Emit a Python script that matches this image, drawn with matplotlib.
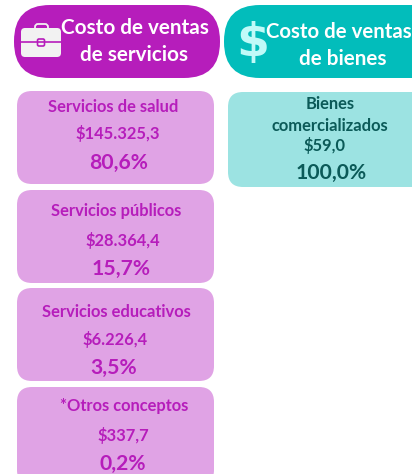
import matplotlib
matplotlib.use("Agg")
import matplotlib.pyplot as plt
from matplotlib.patches import FancyBboxPatch

plt.rcParams['font.family'] = ['Lato', 'DejaVu Sans']

servicios = ["Servicios de salud", "Servicios públicos", "Servicios educativos", "*Otros conceptos"]
servicios_valor = ["$145.325,3", "$28.364,4", "$6.226,4", "$337,7"]
servicios_pct = ["80,6%", "15,7%", "3,5%", "0,2%"]
bienes = "Bienes\ncomercializados"
bienes_valor = "$59,0"
bienes_pct = "100,0%"

MORADO = "#B61DBB"
MORADO_CLARO = "#E0A3E5"
TEAL = "#02BDBB"
TEAL_CLARO = "#9CE3E2"
TEAL_OSCURO = "#0B5A58"


def caja(ax, x0, y0, x1, y1, r, color):
    p = FancyBboxPatch((x0 + r, y0 + r), x1 - x0 - 2 * r, y1 - y0 - 2 * r,
                       boxstyle=f"round,pad={r},rounding_size={r}",
                       fc=color, ec="none", clip_on=True)
    ax.add_patch(p)


fig = plt.figure(figsize=(4.12, 4.74), dpi=100)
ax = fig.add_axes([0, 0, 1, 1])
ax.set_xlim(0, 412)
ax.set_ylim(474, 0)
ax.axis("off")

# encabezados
caja(ax, 14, 5, 220, 78, 36, MORADO)
caja(ax, 224, 5, 470, 78, 36, TEAL)
ax.text(135, 28, "Costo de ventas", color="white", fontsize=14.9, fontweight="bold", ha="center", va="center")
ax.text(134, 55, "de servicios", color="white", fontsize=14.9, fontweight="bold", ha="center", va="center")
ax.text(339, 32, "Costo de ventas", color="white", fontsize=14.7, fontweight="bold", ha="center", va="center")
ax.text(343, 59, "de bienes", color="white", fontsize=14.9, fontweight="bold", ha="center", va="center")

# maletin
ax.add_patch(FancyBboxPatch((35, 24), 13, 8, boxstyle="round,pad=0,rounding_size=3", fc="none", ec="#F2F2F2", lw=1.3))
caja(ax, 21, 28, 61, 57, 4, "#F2F2F2")
ax.plot([21, 61], [42, 42], color=MORADO, lw=1.2)
ax.add_patch(FancyBboxPatch((37.5, 39), 7, 7, boxstyle="round,pad=0,rounding_size=1.5", fc="#F2F2F2", ec=MORADO, lw=1.2))

# signo de pesos
ax.text(253, 43, "$", color="#C0FAF8", fontsize=34, fontweight="bold", family="DejaVu Sans", ha="center", va="center")

# tarjetas servicios
tops = [91, 190, 288, 387]
bottoms = [184, 283, 381, 485]
pos_label = [(113, 107), (116.5, 211), (116, 312), (124, 406)]
pos_valor = [(118, 133), (123, 240), (115, 340), (123, 435)]
pos_pct = [(119, 163), (121, 269), (114, 368), (123, 464)]
for i in range(len(servicios)):
    caja(ax, 17, tops[i], 214, bottoms[i], 15, MORADO_CLARO)
    ax.text(*pos_label[i], servicios[i], color=MORADO, fontsize=11.9, fontweight="bold", ha="center", va="center")
    ax.text(*pos_valor[i], servicios_valor[i], color=MORADO, fontsize=11.9, fontweight="bold", ha="center", va="center")
    ax.text(*pos_pct[i], servicios_pct[i], color=MORADO, fontsize=15.2, fontweight="bold", ha="center", va="center")

# tarjeta bienes
caja(ax, 228, 92, 430, 187, 15, TEAL_CLARO)
ax.text(330, 115, bienes, color=TEAL_OSCURO, fontsize=11.9, fontweight="bold", ha="center", va="center", linespacing=1.45)
ax.text(325, 146, bienes_valor, color=TEAL_OSCURO, fontsize=11.9, fontweight="bold", ha="center", va="center")
ax.text(331, 173, bienes_pct, color=TEAL_OSCURO, fontsize=15.2, fontweight="bold", ha="center", va="center")

fig.savefig("out.png", dpi=100, facecolor="white")
